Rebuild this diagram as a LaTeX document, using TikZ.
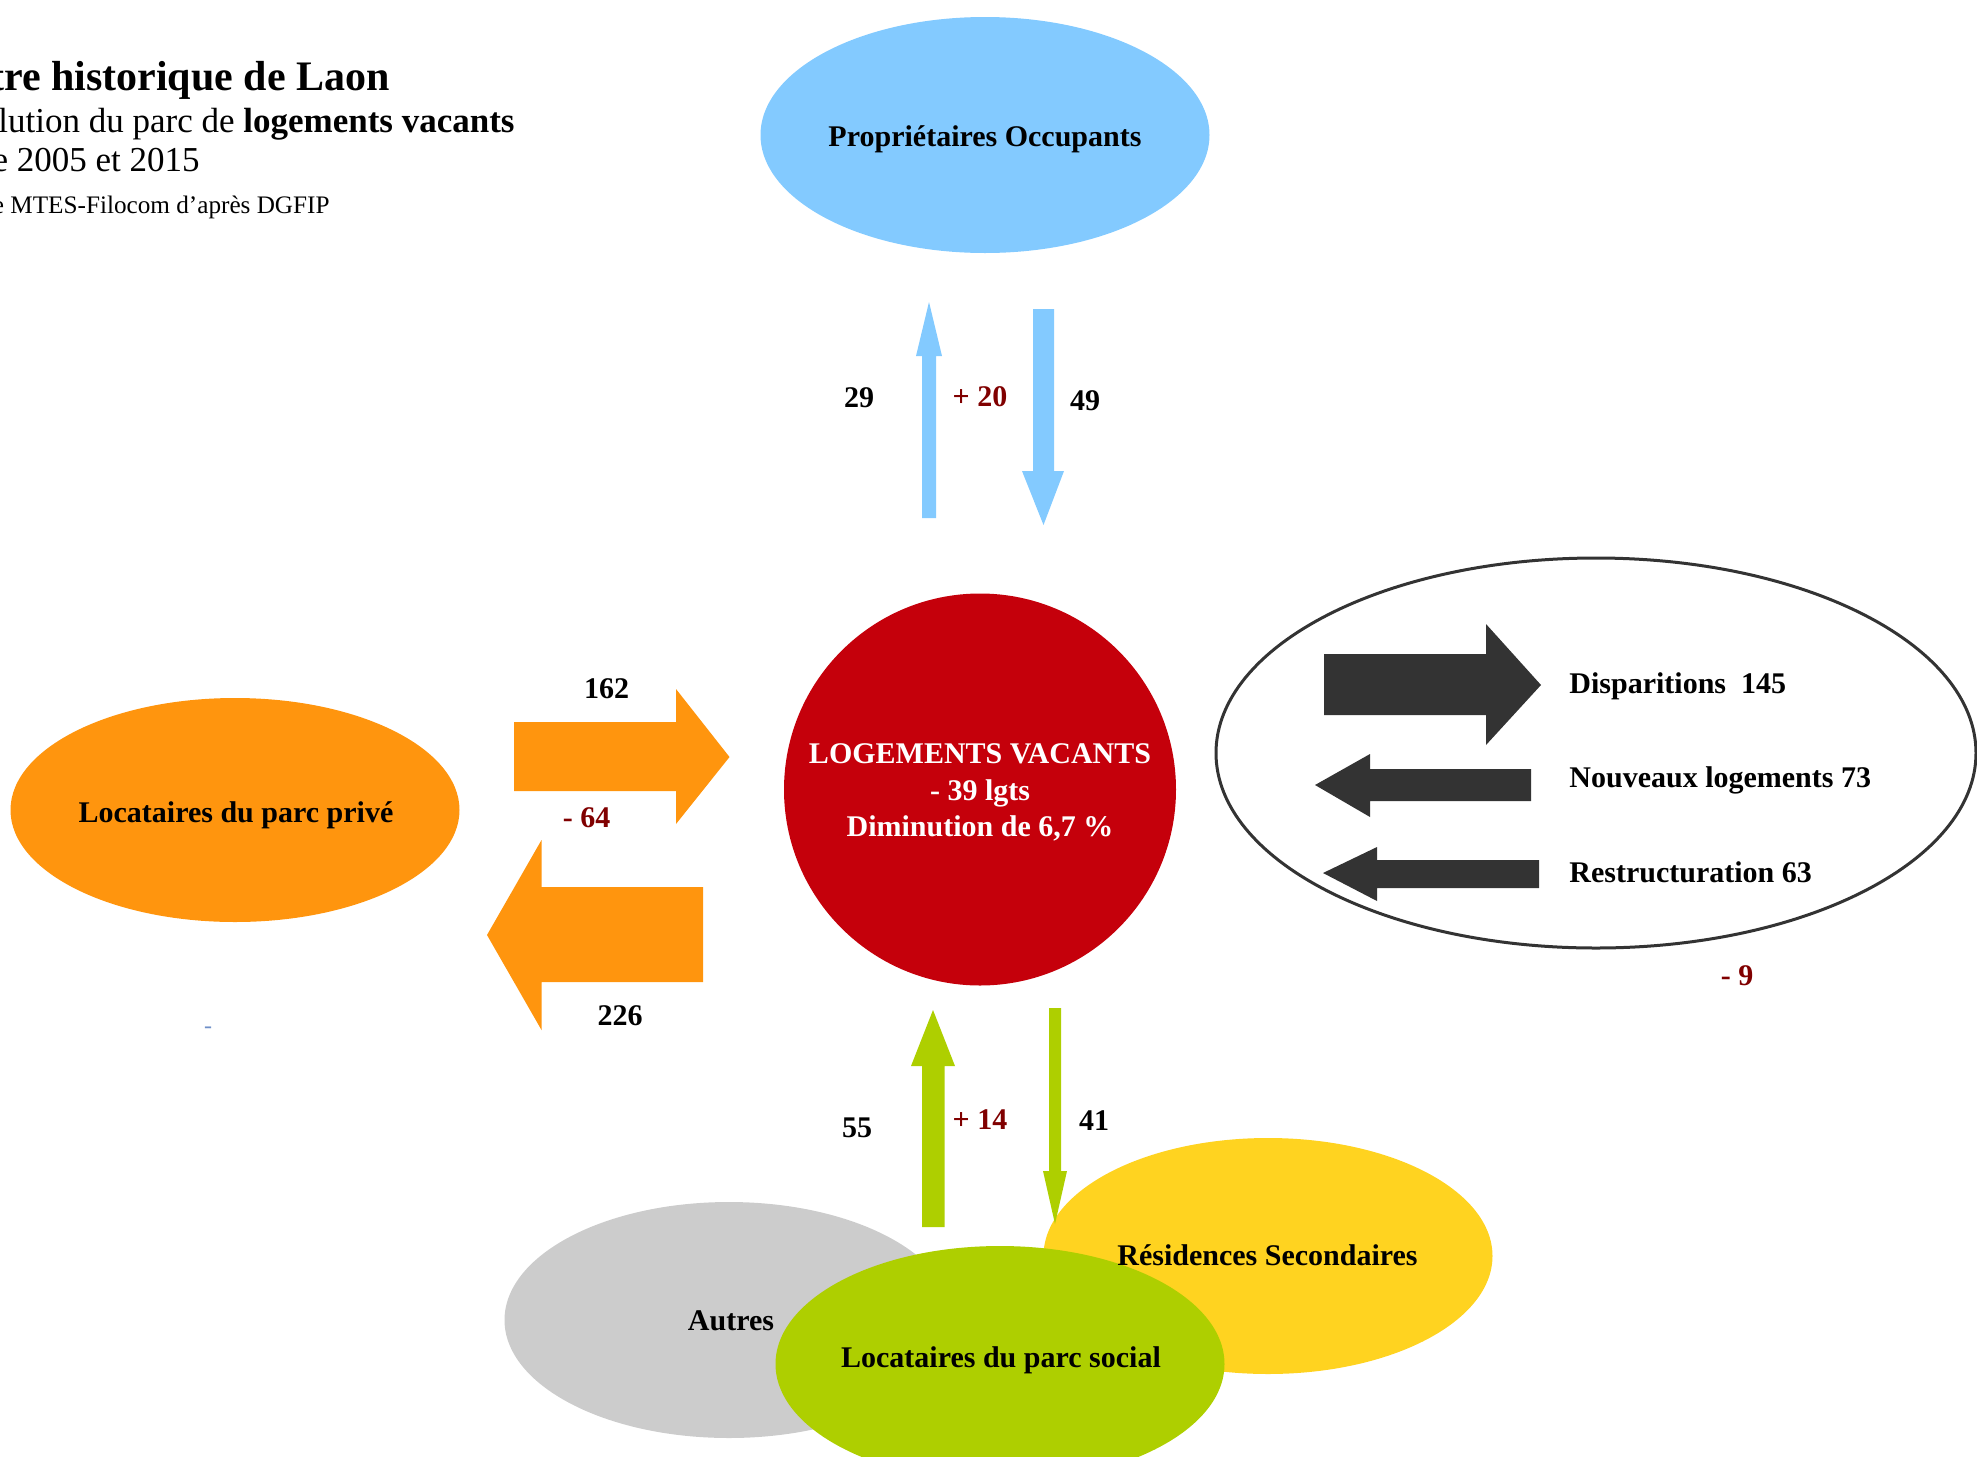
\documentclass[tikz,border=0pt]{standalone}
\usepackage{fontspec}
\setmainfont{Liberation Serif}
\usetikzlibrary{shapes.geometric}
\definecolor{poblue}{HTML}{83CAFF}
\definecolor{orng}{HTML}{FF950E}
\definecolor{vacred}{HTML}{C5000B}
\definecolor{gold}{HTML}{FFD320}
\definecolor{lgreen}{HTML}{AECF00}
\definecolor{lgray}{HTML}{CCCCCC}
\definecolor{darkg}{HTML}{333333}
\definecolor{netred}{HTML}{800000}
\definecolor{dashblue}{HTML}{6F8FC8}
\tikzset{
  lbl/.style={font=\bfseries\fontsize{15}{18}\selectfont, inner sep=0pt, anchor=base},
  netlbl/.style={lbl, text=netred},
  sidelbl/.style={lbl, anchor=base west},
  blob/.style={ellipse, inner sep=0pt, minimum width=224.5pt, minimum height=118pt},
}
\begin{document}
\begin{tikzpicture}[x=0.5pt, y=-0.5pt]
\useasboundingbox (0,0) rectangle (1977,1457);
\clip (0,0) rectangle (1977,1457);

% title
\node[font=\bfseries\fontsize{21}{25}\selectfont, inner sep=0pt, anchor=base east] (t1) at (390,90) {Centre historique de Laon};
\node[font=\fontsize{17.5}{21}\selectfont, inner sep=0pt, anchor=base east] (t2) at (515,132) {Évolution du parc de \textbf{logements vacants}};
\node[font=\fontsize{17.5}{21}\selectfont, inner sep=0pt, anchor=base east] (t3) at (200,171) {entre 2005 et 2015};
\node[font=\fontsize{12.6}{15}\selectfont, inner sep=0pt, anchor=base east] (t4) at (330,213) {Source MTES-Filocom d’après DGFIP};

% ellipses
\node[blob, fill=poblue] (po) at (985,135) {};
\node[blob, fill=orng, minimum height=112pt] (lpp) at (235,810) {};
\node[circle, fill=vacred, inner sep=0pt, minimum size=196pt] (lv) at (980,789.5) {};
\node[ellipse, draw=darkg, line width=1.5pt, inner sep=0pt, minimum width=380pt, minimum height=195pt] (mut) at (1596,753) {};
\node[blob, fill=lgray] (aut) at (729,1320) {};
\node[blob, fill=gold] (rs) at (1268,1256) {};
\node[blob, fill=lgreen] (lps) at (1000,1364) {};

% blue arrows
\fill[poblue] (922,518) -- (922,356) -- (916,356) -- (929,302) -- (942,356) -- (936,356) -- (936,518) -- cycle;
\fill[poblue] (1033,309) -- (1054,309) -- (1054,471) -- (1064,471) -- (1043.5,525) -- (1022,471) -- (1033,471) -- cycle;
% orange arrows
\fill[orng] (514,722) -- (676,722) -- (676,689) -- (729.5,757) -- (676,824) -- (676,791) -- (514,791) -- cycle;
\fill[orng] (703,887) -- (541.5,887) -- (541.5,840) -- (487,935) -- (541.5,1030) -- (541.5,982) -- (703,982) -- cycle;
% dark arrows
\fill[darkg] (1324,654) -- (1486,654) -- (1486,624) -- (1541,685) -- (1486,745) -- (1486,715) -- (1324,715) -- cycle;
\fill[darkg] (1531,769) -- (1370,769) -- (1370,754) -- (1315,785) -- (1370,817) -- (1370,801) -- (1531,801) -- cycle;
\fill[darkg] (1539,860) -- (1377,860) -- (1377,847) -- (1323,873) -- (1377,901) -- (1377,888) -- (1539,888) -- cycle;
% green arrows
\fill[lgreen] (922,1227) -- (922,1066) -- (911,1066) -- (933,1010) -- (955,1066) -- (944.5,1066) -- (944.5,1227) -- cycle;
\fill[lgreen] (1049,1008) -- (1061,1008) -- (1061,1171) -- (1067,1171) -- (1055,1224) -- (1043,1171) -- (1049,1171) -- cycle;

% ellipse labels
\node[lbl] (poT) at (985,146) {Propriétaires Occupants};
\node[lbl] (lppT) at (236,822) {Locataires du parc privé};
\node[lbl] (autT) at (731,1330) {Autres};
\node[lbl] (rsT) at (1267.5,1265) {Résidences Secondaires};
\node[lbl] (lpsT) at (1001,1367) {Locataires du parc social};
\node[lbl, text=white] (lv1) at (980,763) {LOGEMENTS VACANTS};
\node[lbl, text=white] (lv2) at (980,800) {- 39 lgts};
\node[lbl, text=white] (lv3) at (980,836) {Diminution de 6,7 \%};

% flow numbers
\node[lbl] (n29) at (859,407) {29};
\node[netlbl] (n20) at (980,406) {+ 20};
\node[lbl] (n49) at (1085,410) {49};
\node[lbl] (n162) at (606.5,698) {162};
\node[netlbl] (n64) at (586.5,827) {- 64};
\node[lbl] (n226) at (620,1025) {226};
\node[lbl] (n55) at (857,1137) {55};
\node[netlbl] (n14) at (980,1129) {+ 14};
\node[lbl] (n41) at (1094,1130) {41};
\node[sidelbl] (disp) at (1569,693) {Disparitions~~145};
\node[sidelbl] (nouv) at (1569,787) {Nouveaux logements 73};
\node[sidelbl] (rest) at (1569,882) {Restructuration 63};
\node[netlbl] (n9) at (1737,985) {- 9};
\node[font=\fontsize{12}{14}\selectfont, text=dashblue, inner sep=0pt, anchor=base] (dash) at (208,1033) {-};
\end{tikzpicture}
\end{document}
